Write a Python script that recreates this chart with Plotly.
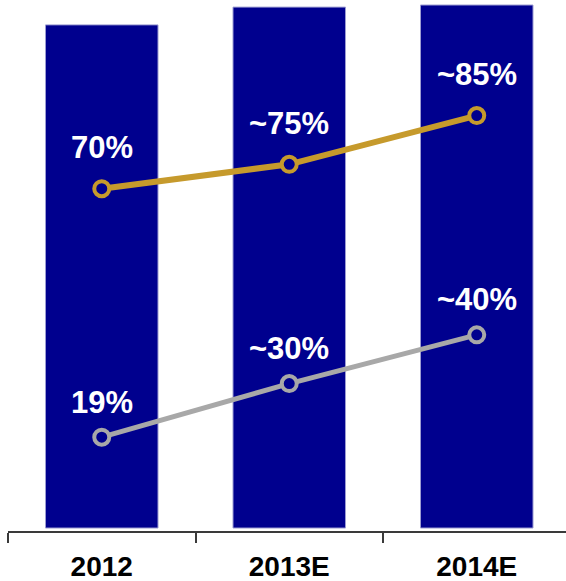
import plotly.graph_objects as go

# Periods on the x axis
years = ["2012", "2013E", "2014E"]

# Relative size of each year's bar (2014E = 100)
bar_index = [96.2, 99.6, 100.0]

# Upper series (gold) and lower series (grey), in percent
upper_pct = [70, 75, 85]
upper_labels = ["70%", "~75%", "~85%"]

lower_pct = [19, 30, 40]
lower_labels = ["19%", "~30%", "~40%"]

NAVY = "#00008E"
GOLD = "#C69A2C"
GREY = "#A8A8A8"
FONT = "Arial, 'Liberation Sans', sans-serif"

fig = go.Figure()

fig.add_trace(go.Bar(
    x=years, y=bar_index, yaxis="y",
    marker=dict(color=NAVY, line=dict(color="#9C9CD2", width=1)),
    width=0.6, showlegend=False, hoverinfo="skip",
))

for vals, color, lw in ((upper_pct, GOLD, 6), (lower_pct, GREY, 5)):
    fig.add_trace(go.Scatter(
        x=years, y=vals, yaxis="y2", mode="lines+markers",
        line=dict(color=color, width=lw),
        marker=dict(symbol="circle", size=15, color=NAVY,
                    line=dict(color=color, width=4)),
        showlegend=False, hoverinfo="skip",
    ))

# Value labels: annotations placed at each category's index position
annotations = []
for vals, labels, shift in ((upper_pct, upper_labels, 41), (lower_pct, lower_labels, 35)):
    for i, (v, t) in enumerate(zip(vals, labels)):
        annotations.append(dict(
            x=i, y=v, xref="x", yref="y2", text=t, showarrow=False,
            yanchor="middle", xanchor="center", yshift=shift,
            font=dict(family=FONT, size=31, color="white", weight="bold"),
        ))

fig.update_layout(
    width=566, height=581,
    margin=dict(l=8, r=0, t=0, b=50),
    paper_bgcolor="white", plot_bgcolor="white",
    bargap=0.4,
    annotations=annotations,
    xaxis=dict(
        type="category", range=[-0.5, 2.476],
        showgrid=False, zeroline=False,
        showline=True, linecolor="#3A3A3A", linewidth=1.5,
        ticks="outside", tickson="boundaries", ticklen=10,
        tickcolor="#3A3A3A", tickwidth=1.5,
        tickfont=dict(family=FONT, size=28, color="black", weight="bold"),
        ticklabelstandoff=10,
    ),
    yaxis=dict(range=[-0.57, 100.96], visible=False, fixedrange=True),
    yaxis2=dict(range=[-0.25, 108.72], overlaying="y", visible=False,
                fixedrange=True),
)

fig.write_html("out.html")
